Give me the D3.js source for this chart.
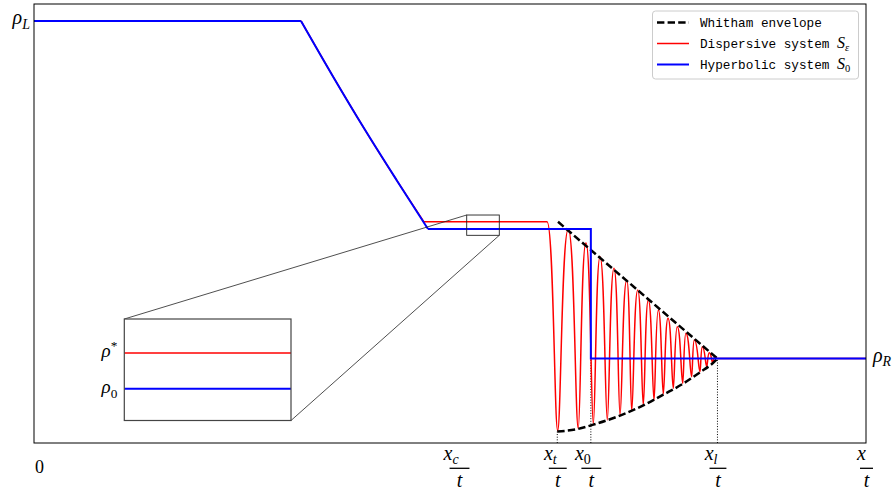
<!DOCTYPE html>
<html><head><meta charset="utf-8">
<script src="https://cdn.jsdelivr.net/npm/d3@7"></script>
<style>
body{margin:0;background:#fff;}
svg{display:block;}
</style></head><body>
<svg id="chart" width="896" height="491"></svg>
<script>
// Riemann problem: hyperbolic solution S0 against the dispersive system S_eps

// ---- states ----
const rhoL = 1.0, rhoStar = 0.524, rho0 = 0.507, rhoR = 0.2;

// ---- self-similar positions x/t ----
const xMin = -0.006, xMax = 1.0;
const xHeadRaref = 0.3168;      // head of the rarefaction fan
const xTailRaref = 0.4704;      // tail of the fan, hyperbolic (reaches rho0)
const xTailRarefDisp = 0.4654;  // tail of the fan, dispersive (reaches rho*)
const xc = 0.5079, xt = 0.6267, x0 = 0.6673, xl = 0.8204;
const dswStart = 0.6143;        // end of the rho* plateau

// interior points of the rarefaction fan [x/t, rho]
const rarefaction = [[0.3555, 0.8685], [0.3942, 0.7420], [0.4329, 0.6214]];

// dispersive shock wave: troughs and crests [x/t, rho]
const dswTroughs = [
  [0.6272, 0.0291], [0.6521, 0.0348], [0.6703, 0.0450], [0.6872, 0.0545],
  [0.7026, 0.0663], [0.7167, 0.0765], [0.7307, 0.0900], [0.7437, 0.1019],
  [0.7549, 0.1161], [0.7670, 0.1296], [0.7784, 0.1414], [0.7892, 0.1571],
  [0.7993, 0.1689], [0.8074, 0.1808], [0.8146, 0.1902]
];
const dswCrests = [
  [0.6400, 0.5063], [0.6614, 0.4745], [0.6784, 0.4413], [0.6953, 0.4139],
  [0.7107, 0.3861], [0.7240, 0.3625], [0.7368, 0.3388], [0.7489, 0.3151],
  [0.7606, 0.2954], [0.7718, 0.2755], [0.7822, 0.2599], [0.7924, 0.2440],
  [0.8021, 0.2281], [0.8105, 0.2139], [0.8174, 0.2044]
];

// Whitham modulation envelope
const envUpper = [[0.6276, 0.524], [xl, rhoR]];
const envLower = [
  [0.6267, 0.027], [0.6521, 0.0335], [0.6703, 0.0435], [0.7026, 0.065],
  [0.7307, 0.089], [0.7549, 0.1145], [0.7784, 0.140], [0.7993, 0.1675],
  [0.8146, 0.189], [xl, rhoR]
];

// axis ticks
const xTickVals = [0, xc, xt, x0, xl, xMax];
const xTickSubs = [null, "c", "t", "0", "l", ""];

// magnified window [x/t range, rho range]
const zoomX = [0.5172, 0.5566], zoomY = [0.4920, 0.5401];

// ---- layout ----
const plot = {left: 34, top: 4, right: 866, bottom: 443};
const inset = {left: 124.3, top: 319, right: 291, bottom: 420.5};
const MATH = '"Liberation Serif", "DejaVu Serif", serif';
const MONO = '"Liberation Mono", "DejaVu Sans Mono", monospace';

const svg = d3.select("#chart");
const x = d3.scaleLinear().domain([xMin, xMax]).range([plot.left, plot.right]);
const y = d3.scaleLinear().domain([0, 1.04]).range([plot.bottom, plot.top]);

const ix = d3.scaleLinear().domain(zoomX).range([inset.left, inset.right]);
const iy = d3.scaleLinear().domain(zoomY).range([inset.bottom, inset.top]);

const defs = svg.append("defs");
defs.append("clipPath").attr("id", "clipMain").append("rect")
  .attr("x", plot.left).attr("y", plot.top)
  .attr("width", plot.right - plot.left).attr("height", plot.bottom - plot.top);
defs.append("clipPath").attr("id", "clipInset").append("rect")
  .attr("x", inset.left).attr("y", inset.top)
  .attr("width", inset.right - inset.left).attr("height", inset.bottom - inset.top);

// wave path through alternating extrema: horizontal tangents at every
// extremum, narrow at the troughs and rounded over the crests
function wavePath(pts, sx, sy) {
  const p = d3.path();
  const TROUGH = 0.3, CREST = 0.62;
  pts.forEach((d, i) => {
    const X = sx(d[0]), Y = sy(d[1]);
    if (i === 0) { p.moveTo(X, Y); return; }
    const a = pts[i - 1];
    const X0 = sx(a[0]), Y0 = sy(a[1]);
    const dx = X - X0;
    const prevIsCrest = a[1] > d[1];
    const c1 = prevIsCrest ? CREST : TROUGH;
    const c2 = prevIsCrest ? TROUGH : CREST;
    p.bezierCurveTo(X0 + c1 * dx, Y0, X - c2 * dx, Y, X, Y);
  });
  return p.toString();
}

// series
const blueFlatL = [[xMin, rhoL], [xHeadRaref, rhoL]];
const blueFan = [[xHeadRaref, rhoL], ...rarefaction, [xTailRaref, rho0]];
const blueRest = [[xTailRaref, rho0], [x0, rho0], [x0, rhoR], [xMax, rhoR]];
const redFan = [[xHeadRaref, rhoL], ...rarefaction.filter(d => d[1] > rhoStar), [xTailRarefDisp, rhoStar]];
const redPlateau = [[xTailRarefDisp, rhoStar], [dswStart, rhoStar]];
const redWave = [[dswStart, rhoStar]];
dswTroughs.forEach((t, i) => { redWave.push(t); redWave.push(dswCrests[i]); });
redWave.push([xl, rhoR]);
const redTail = [[xl, rhoR], [xMax, rhoR]];

function drawSeries(g, sx, sy, withEnvelope) {
  const lin = d3.line().x(d => sx(d[0])).y(d => sy(d[1]));
  const smooth = d3.line().x(d => sx(d[0])).y(d => sy(d[1])).curve(d3.curveMonotoneX);
  const red = g.append("g").attr("fill", "none").attr("stroke", "#ff0000")
    .attr("stroke-width", 1.5).attr("stroke-linejoin", "round");
  red.append("path").attr("d", lin(blueFlatL));
  red.append("path").attr("d", smooth(redFan));
  red.append("path").attr("d", lin(redPlateau));
  red.append("path").attr("d", wavePath(redWave, sx, sy));
  red.append("path").attr("d", lin(redTail));
  if (withEnvelope) {
    const env = g.append("g").attr("fill", "none").attr("stroke", "#000")
      .attr("stroke-width", 2.5).attr("stroke-dasharray", "7.4,3.2");
    env.append("path").attr("d", lin(envUpper));
    env.append("path").attr("d", smooth(envLower));
  }
  const blue = g.append("g").attr("fill", "none").attr("stroke", "#0000ff")
    .attr("stroke-width", 2).attr("stroke-linejoin", "miter");
  blue.append("path").attr("d", lin(blueFlatL));
  blue.append("path").attr("d", smooth(blueFan));
  blue.append("path").attr("d", lin(blueRest));
}

// ---- main panel ----
const main = svg.append("g").attr("clip-path", "url(#clipMain)");

// guide lines from the axis up to the characteristic points
const guides = [[xt, envLower[0][1]], [x0, rhoR], [xl, rhoR]];
main.selectAll("line.guide").data(guides).join("line").attr("class", "guide")
  .attr("x1", d => x(d[0])).attr("x2", d => x(d[0]))
  .attr("y1", y(0)).attr("y2", d => y(d[1]))
  .attr("stroke", "#000").attr("stroke-width", 1).attr("stroke-dasharray", "1,1.65");

// connector lines between magnified window and inset
const conn = svg.append("g").attr("stroke", "#222").attr("stroke-width", 0.8);
conn.append("line").attr("x1", x(zoomX[0])).attr("y1", y(zoomY[1]))
  .attr("x2", inset.left).attr("y2", inset.top);
conn.append("line").attr("x1", x(zoomX[1])).attr("y1", y(zoomY[0]))
  .attr("x2", inset.right).attr("y2", inset.bottom);

drawSeries(main, x, y, true);

// magnified window outline
svg.append("rect").attr("x", x(zoomX[0])).attr("y", y(zoomY[1]))
  .attr("width", x(zoomX[1]) - x(zoomX[0])).attr("height", y(zoomY[0]) - y(zoomY[1]))
  .attr("fill", "none").attr("stroke", "#222").attr("stroke-width", 0.9);

// frame
svg.append("rect").attr("x", plot.left).attr("y", plot.top)
  .attr("width", plot.right - plot.left).attr("height", plot.bottom - plot.top)
  .attr("fill", "none").attr("stroke", "#000").attr("stroke-width", 1);

// ---- inset ----
const insetG = svg.append("g");
insetG.append("rect").attr("x", inset.left).attr("y", inset.top)
  .attr("width", inset.right - inset.left).attr("height", inset.bottom - inset.top)
  .attr("fill", "#fff");
drawSeries(insetG.append("g").attr("clip-path", "url(#clipInset)"), ix, iy, false);
insetG.append("rect").attr("x", inset.left).attr("y", inset.top)
  .attr("width", inset.right - inset.left).attr("height", inset.bottom - inset.top)
  .attr("fill", "none").attr("stroke", "#444").attr("stroke-width", 1.2);

// math label: italic base symbol with optional sub / superscript
function mathLabel(sel, base, sub, sup, size) {
  const t = sel.append("text").style("font-family", MATH).attr("font-size", size)
    .attr("fill", "#000");
  t.append("tspan").attr("font-style", "italic").text(base);
  if (sub) {
    const italicSub = !/^[0-9]$/.test(sub);
    t.append("tspan").attr("font-size", size * 0.7).attr("dy", size * 0.22)
      .attr("font-style", italicSub ? "italic" : "normal").text(sub);
  }
  if (sup) {
    t.append("tspan").attr("font-size", size * 0.7).attr("dy", -size * 0.38).text(sup);
  }
  return t;
}

// inset y labels
const insetAxis = insetG.append("g").attr("transform", `translate(${inset.left},0)`)
  .call(d3.axisLeft(iy).tickValues([rhoStar, rho0]).tickSize(0).tickFormat(""));
insetAxis.select(".domain").remove();
insetAxis.selectAll(".tick").each(function(d) {
  const g = d3.select(this);
  const lab = d === rhoStar ? mathLabel(g, "ρ", null, "*", 19) : mathLabel(g, "ρ", "0", null, 19);
  lab.attr("text-anchor", "end").attr("x", -7).attr("y", 4);
});

// ---- axes ----
const xAxis = svg.append("g").attr("transform", `translate(0,${plot.bottom})`)
  .call(d3.axisBottom(x).tickValues(xTickVals).tickSize(0).tickFormat(""));
xAxis.select(".domain").remove();
xAxis.selectAll(".tick").each(function(d, i) {
  const g = d3.select(this);
  const sub = xTickSubs[i];
  if (sub === null) {
    g.append("text").style("font-family", MATH).attr("font-size", 18)
      .attr("text-anchor", "middle").attr("y", 30).attr("fill", "#000").text("0");
    return;
  }
  const num = mathLabel(g, "x", sub || null, null, 20).attr("y", 16.5);
  const bb = num.node().getBBox();
  num.attr("x", -bb.width / 2);
  g.append("line").attr("x1", -bb.width / 2 - 1.5).attr("x2", bb.width / 2 + 1.5)
    .attr("y1", 25.3).attr("y2", 25.3).attr("stroke", "#000").attr("stroke-width", 1.3);
  g.append("text").style("font-family", MATH).attr("font-size", 20).attr("font-style", "italic")
    .attr("text-anchor", "middle").attr("y", 43.5).attr("fill", "#000").text("t");
});

const yAxisL = svg.append("g").attr("transform", `translate(${plot.left},0)`)
  .call(d3.axisLeft(y).tickValues([rhoL]).tickSize(0).tickFormat(""));
yAxisL.select(".domain").remove();
yAxisL.selectAll(".tick").each(function() {
  mathLabel(d3.select(this), "ρ", "L", null, 20).attr("text-anchor", "end").attr("x", -4).attr("y", 3);
});

const yAxisR = svg.append("g").attr("transform", `translate(${plot.right},0)`)
  .call(d3.axisRight(y).tickValues([rhoR]).tickSize(0).tickFormat(""));
yAxisR.select(".domain").remove();
yAxisR.selectAll(".tick").each(function() {
  mathLabel(d3.select(this), "ρ", "R", null, 20).attr("x", 7).attr("y", 3);
});

// ---- legend ----
const legendItems = [
  {label: "Whitham envelope", color: "#000", width: 2.5, dash: "7.4,3.2", sym: null},
  {label: "Dispersive system ", color: "#ff0000", width: 1.5, dash: null, sym: ["S", "ε"]},
  {label: "Hyperbolic system ", color: "#0000ff", width: 2, dash: null, sym: ["S", "0"]}
];
const leg = svg.append("g");
leg.append("rect").attr("x", 652.5).attr("y", 11).attr("width", 206).attr("height", 68)
  .attr("rx", 3).attr("fill", "#fff").attr("fill-opacity", 0.8)
  .attr("stroke", "#ccc").attr("stroke-width", 1);
legendItems.forEach((it, i) => {
  const cy = 22.5 + i * 21;
  leg.append("line").attr("x1", 657).attr("x2", 689).attr("y1", cy).attr("y2", cy)
    .attr("stroke", it.color).attr("stroke-width", it.width)
    .attr("stroke-dasharray", it.dash);
  const t = leg.append("text").style("font-family", MONO).attr("x", 700).attr("y", cy + 4.5)
    .attr("font-size", 12.7).attr("fill", "#000")
    .style("white-space", "pre").text(it.label);
  if (it.sym) {
    const s = t.append("tspan").style("font-family", MATH).attr("font-size", 16);
    s.append("tspan").attr("font-style", "italic").text(it.sym[0]);
    s.append("tspan").attr("font-size", 10.5).attr("dy", 3)
      .attr("font-style", it.sym[1] === "ε" ? "italic" : "normal").text(it.sym[1]);
  }
});
</script>
</body></html>
